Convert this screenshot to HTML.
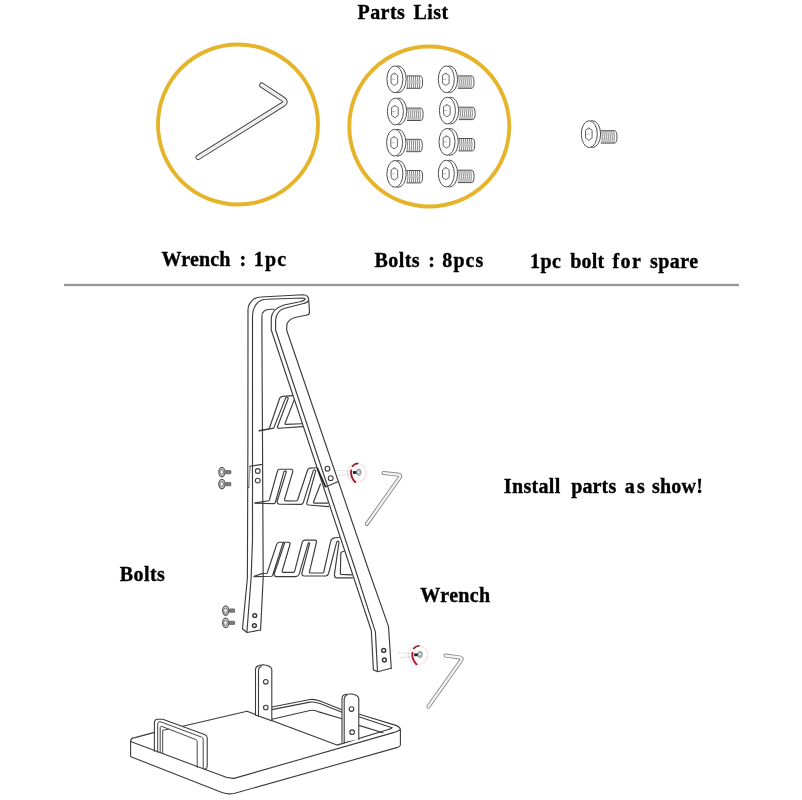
<!DOCTYPE html>
<html><head><meta charset="utf-8">
<style>
html,body{margin:0;padding:0;background:#fff;width:802px;height:800px;overflow:hidden;}
svg{position:absolute;left:0;top:0;display:block;}
.t{font-family:"Liberation Serif",serif;font-weight:bold;font-size:20px;fill:#000;stroke:#000;stroke-width:0.35px;}
</style></head><body>
<svg width="802" height="800" viewBox="0 0 802 800">
<defs>
<g id="bolt" fill="none" stroke="#484848" stroke-width="0.95">
  <path d="M19.5,10.2 L33.5,10.2 Q35.8,10.5 35.8,16.4 Q35.8,22.3 33.5,22.6 L19.5,22.6" fill="#fff"/>
  <path d="M20.6,10.6 Q21.6,16.4 20.6,22.4 M22.6,10.4 Q23.7,16.4 22.6,22.4 M24.6,10.4 Q25.7,16.4 24.6,22.4 M26.6,10.4 Q27.7,16.4 26.6,22.4 M28.6,10.4 Q29.7,16.4 28.6,22.4 M30.6,10.4 Q31.7,16.4 30.6,22.4 M32.6,10.5 Q33.6,16.4 32.6,22.4" stroke="#5a5a5a" stroke-width="0.75"/>
  <ellipse cx="11.3" cy="13.6" rx="8.1" ry="13.4" fill="#fff"/>
  <ellipse cx="8.1" cy="13.6" rx="8.0" ry="13.4" fill="#fff"/>
  <path d="M7.6,7.4 L10.9,9.7 L10.9,17.5 L7.6,19.8 L4.3,17.5 L4.3,9.7 Z" stroke="#555" stroke-width="0.9"/>
  <path d="M4.6,13.6 L8,13.6 M7.6,7.4 L7.6,9.6" stroke="#888" stroke-width="0.6"/>
</g>
</defs>
<g style="filter:grayscale(1)"><text class="t" x="357.5" y="19.0" textLength="47.3" lengthAdjust="spacing">Parts</text>
<text class="t" x="413.6" y="19.0" textLength="34.6" lengthAdjust="spacing">List</text>
<text class="t" x="161.6" y="265.6" textLength="68.8" lengthAdjust="spacing">Wrench</text>
<text class="t" x="239.4" y="265.6" textLength="4.1" lengthAdjust="spacing">:</text>
<text class="t" x="253.8" y="265.6" textLength="32.4" lengthAdjust="spacing">1pc</text>
<text class="t" x="374.6" y="266.6" textLength="44.9" lengthAdjust="spacing">Bolts</text>
<text class="t" x="428.3" y="266.6" textLength="4.3" lengthAdjust="spacing">:</text>
<text class="t" x="442.3" y="266.6" textLength="41.1" lengthAdjust="spacing">8pcs</text>
<text class="t" x="530" y="268" textLength="30.8" lengthAdjust="spacing">1pc</text>
<text class="t" x="570.2" y="268" textLength="33.9" lengthAdjust="spacing">bolt</text>
<text class="t" x="612.4" y="268" textLength="28.5" lengthAdjust="spacing">for</text>
<text class="t" x="649.9" y="268" textLength="48.3" lengthAdjust="spacing">spare</text>
<text class="t" x="503.8" y="492.9" textLength="56.5" lengthAdjust="spacing">Install</text>
<text class="t" x="571.2" y="492.9" textLength="45" lengthAdjust="spacing">parts</text>
<text class="t" x="624.8" y="492.9" textLength="20.1" lengthAdjust="spacing">as</text>
<text class="t" x="652" y="492.9" textLength="50.8" lengthAdjust="spacing">show!</text>
<text class="t" x="119.7" y="580.6" textLength="45.1" lengthAdjust="spacing">Bolts</text>
<text class="t" x="420.3" y="601.9" textLength="69.9" lengthAdjust="spacing">Wrench</text></g>
<circle cx="238" cy="124.5" r="80" fill="none" stroke="#e5b42a" stroke-width="3.9"/>
<circle cx="429.3" cy="126.5" r="80" fill="none" stroke="#e5b42a" stroke-width="3.9"/>
<path d="M261.8,85.2 L283.0,99.1 Q287.2,101.8 283.0,104.4 L198.2,157.3" fill="none" stroke="#4a4a4a" stroke-width="5.4" stroke-linejoin="round" stroke-linecap="round"/><path d="M261.8,85.2 L283.0,99.1 Q287.2,101.8 283.0,104.4 L198.2,157.3" fill="none" stroke="#fff" stroke-width="3.3" stroke-linejoin="round" stroke-linecap="round"/><path d="M261.8,85.2 L283.0,99.1 Q287.2,101.8 283.0,104.4 L198.2,157.3" fill="none" stroke="#bbbbbb" stroke-width="0.5" stroke-linejoin="round"/>
<path d="M383.5,473.0 L398.0,474.6 Q401.5,475.0 399.5,477.9 L366.8,524.0" fill="none" stroke="#8a8a8a" stroke-width="4.0" stroke-linejoin="round" stroke-linecap="round"/><path d="M383.5,473.0 L398.0,474.6 Q401.5,475.0 399.5,477.9 L366.8,524.0" fill="none" stroke="#fff" stroke-width="2.1" stroke-linejoin="round" stroke-linecap="round"/><path d="M383.5,473.0 L398.0,474.6 Q401.5,475.0 399.5,477.9 L366.8,524.0" fill="none" stroke="#dddddd" stroke-width="0.5" stroke-linejoin="round"/>
<use href="#bolt" x="386.8" y="65.7"/><use href="#bolt" x="387.3" y="97.9"/><use href="#bolt" x="386.5" y="129.1"/><use href="#bolt" x="386.8" y="160.3"/><use href="#bolt" x="438.2" y="65.7"/><use href="#bolt" x="439.3" y="97.0"/><use href="#bolt" x="438.9" y="128.3"/><use href="#bolt" x="438.2" y="160.0"/><use href="#bolt" x="581.2" y="120.5"/>
<rect x="64" y="283.8" width="675" height="2.3" fill="#979797"/>

<g fill="none" stroke="#3c3c3c" stroke-width="1.15" stroke-linejoin="round" stroke-linecap="round">
 <!-- hooks row 1 -->
 <path d="M259.1,430.6 L269.2,428.7 L279.7,398.2 Q280.3,396.6 282.7,396.4 L292.5,395.6"/>
 <path d="M259.1,431 L273.7,428.1 L285.7,397.9 Q286.8,396.4 288.3,398.2 L277.4,427 Q277.3,428.3 279,428.3 L302.5,426.6"/>
 <path d="M302,423.7 L286,424.4 Q284.6,424.5 285.1,423.2 L294.3,399.6"/>
 <!-- hooks row 2 -->
 <path d="M255,502.9 L268.7,500.8 Q269.2,500.6 269.4,500 L277.5,471 Q278,469.4 279.6,469.3 L291.2,469.2 Q293.2,469.4 292.7,471.8 L284.5,499.5 Q284.5,500.8 285.8,500.8 L296.3,501 Q297.2,500.9 297.6,500 L307.6,470 Q308.2,468.2 309.6,468.1 L317.3,467.8"/>
 <path d="M255,503.3 L273.8,503.6 Q275,503.3 275.3,502.5 L283.9,471.8 Q284.8,470.2 286.4,471.6 L277.1,501.5 Q277.5,504.2 279.5,504.3 L301.4,504.4 Q302.7,504.2 303.2,502.8 L313.25,470.6 Q314.5,469.3 315.75,470.9 L306.7,503.5 Q306.8,505 308.5,505 L328.5,506.6"/>
 <path d="M327.8,503.1 L314.2,503.1 Q313.3,502.8 313.6,501.8 L320.5,484"/>
 <!-- hooks row 3 -->
 <path d="M254.1,576.2 L262,573.6 L267.1,573.2 L276.6,544.6 Q277.3,542.3 279.5,542.2 L288.4,542.2 Q290.4,542.5 290.1,544 L282.2,571 Q282,572.3 283.5,572.4 L293.5,572.4 Q294.3,572.3 294.6,571.3 L302.3,542 Q302.9,540.2 304.5,540.1 L315,540.1 Q316.8,540.4 316.5,542 L309.3,572.6 Q309.5,573 310,573 L323.2,573 Q323.8,572.8 323.9,571.5 L330.7,541.2 Q331.5,538 335,537.7 L339.5,537.5"/>
 <path d="M254.1,576.6 L271.6,576.3 Q272.5,576 272.7,575.2 L282.8,543.4 Q283.6,542 284.5,543.2 L274.1,574.4 Q274.5,576.6 276.5,576.6 L295.7,576.6 Q298.5,576.3 299.1,574.4 L308.2,543.1 Q309,542.2 309.7,543.3 L301.8,573.5 Q302,576 304,576 L326,576 Q328,575.5 328.6,573.5 L336.6,542.3 Q337.8,540.2 339,542 L334.4,574.9 Q334.6,577.9 336.5,577.9 L352.4,577.9"/>
 <path d="M351.6,574.9 L341,574.4 Q340.3,574.1 340.4,573 L340.8,553 Q341.2,551.4 344,551.2"/>
</g>
<!-- front leg (opaque) -->
<path d="M270.8,330 L271.25,330 L371.3,630.5 L373.4,669.7 L377.5,671.7 L391.25,668.3 L388.5,626.4 L286.6,330 Z" fill="#fff"/>
<g fill="none" stroke="#3c3c3c" stroke-width="1.15" stroke-linejoin="round" stroke-linecap="round">
 <!-- back post -->
 <path d="M242.5,628.75 L247.4,578 L247.9,440 L248,310 A13,13 0 0 1 261,297 L303,294.75 Q308.5,294.8 308.75,300 Q308,302.6 302.5,303.8 L284,308.5 Q276.5,311 275.6,320 L275.6,330 L355.5,570 L375.4,631.9 L377.5,671.5"/>
 <path d="M246.9,632 L251.1,578 L252.5,540 L252.5,317.5 C252.5,306 258,299.25 267,299.25 L303,298 Q306,298.3 304.8,299.8 Q303,301 300,301.8 L284,305 Q272,309 271.3,318 L271.25,330 L371.3,630.5 L373.4,669.7"/>
 <path d="M260.6,630 L263.2,577.5 L263,540 L262.5,440 L261.9,330 L261.9,316.5 C261.9,312 265,309.25 270.5,309.25 L274,309.25"/>
 <path d="M242.5,628.75 L246.9,632.5 L260.6,630"/>
 <path d="M308.75,301 L309.5,312 Q309.5,314.6 307,315 L295,317.5 Q288.5,319.5 287,324 L286.6,330 L368.6,570 L388.5,626.4 L391.25,668.3"/>
 <path d="M373.4,669.7 L377.5,671.7 L391.25,668.3"/>
 <!-- back bracket -->
 <path d="M250,466.2 L262.5,464.4 M250,466.2 L248.6,487.5"/>
 <circle cx="257.75" cy="471" r="2.4" stroke-width="1.1"/>
 <circle cx="257.75" cy="480.6" r="2.4" stroke-width="1.1"/>
 <!-- front bracket -->
 <path d="M325.5,487 L337.8,481.8"/>
 <circle cx="327.5" cy="468.7" r="2.4" stroke-width="1.1"/>
 <circle cx="330.7" cy="478.2" r="2.4" stroke-width="1.1"/>
 <!-- holes lower -->
 <circle cx="254.75" cy="615.6" r="1.95" stroke-width="1.5"/>
 <circle cx="254.4" cy="625.6" r="1.95" stroke-width="1.5"/>
 <circle cx="383.7" cy="650.4" r="1.95" stroke-width="1.5"/>
 <circle cx="384.4" cy="660" r="1.95" stroke-width="1.5"/>
</g>
<path d="M317.2,468 L325.6,487" stroke="#222" stroke-width="1.8" fill="none"/>
<rect x="248.3" y="467" width="1.6" height="20" fill="#bbb"/>

<g>
 <rect x="225.1" y="470.0" width="6.2" height="4.2" rx="1.3" fill="#6c6c6c"/>
 <path d="M226.9,470.1 v4 M228.5,470.1 v4 M230.0,470.1 v4" stroke="#9a9a9a" stroke-width="0.5"/>
 <ellipse cx="221.9" cy="472.1" rx="3.1" ry="4.7" fill="#d6d6d6" stroke="#5a5a5a" stroke-width="1.2"/>
 <ellipse cx="221.7" cy="472.1" rx="1.8" ry="2.6" fill="#eee" stroke="#6a6a6a" stroke-width="0.9"/>
 <circle cx="221.6" cy="472.1" r="0.7" fill="#fff"/>
</g>
<g>
 <rect x="225.1" y="482.0" width="6.2" height="4.2" rx="1.3" fill="#6c6c6c"/>
 <path d="M226.9,482.1 v4 M228.5,482.1 v4 M230.0,482.1 v4" stroke="#9a9a9a" stroke-width="0.5"/>
 <ellipse cx="221.9" cy="484.1" rx="3.1" ry="4.7" fill="#d6d6d6" stroke="#5a5a5a" stroke-width="1.2"/>
 <ellipse cx="221.7" cy="484.1" rx="1.8" ry="2.6" fill="#eee" stroke="#6a6a6a" stroke-width="0.9"/>
 <circle cx="221.6" cy="484.1" r="0.7" fill="#fff"/>
</g>
<g>
 <rect x="228.9" y="608.5" width="6.2" height="4.2" rx="1.3" fill="#6c6c6c"/>
 <path d="M230.7,608.6 v4 M232.3,608.6 v4 M233.8,608.6 v4" stroke="#9a9a9a" stroke-width="0.5"/>
 <ellipse cx="225.7" cy="610.6" rx="3.1" ry="4.7" fill="#d6d6d6" stroke="#5a5a5a" stroke-width="1.2"/>
 <ellipse cx="225.5" cy="610.6" rx="1.8" ry="2.6" fill="#eee" stroke="#6a6a6a" stroke-width="0.9"/>
 <circle cx="225.4" cy="610.6" r="0.7" fill="#fff"/>
</g>
<g>
 <rect x="228.9" y="620.8" width="6.2" height="4.2" rx="1.3" fill="#6c6c6c"/>
 <path d="M230.7,620.9 v4 M232.3,620.9 v4 M233.8,620.9 v4" stroke="#9a9a9a" stroke-width="0.5"/>
 <ellipse cx="225.7" cy="622.9" rx="3.1" ry="4.7" fill="#d6d6d6" stroke="#5a5a5a" stroke-width="1.2"/>
 <ellipse cx="225.5" cy="622.9" rx="1.8" ry="2.6" fill="#eee" stroke="#6a6a6a" stroke-width="0.9"/>
 <circle cx="225.4" cy="622.9" r="0.7" fill="#fff"/>
</g>
<g transform="translate(0,0)">
 <circle cx="356.8" cy="472.8" r="9.5" fill="none" stroke="#f6dde2" stroke-width="1.2"/>
 <path d="M337,470.2 L350,471.3 M338.4,475.6 L350,474.3" stroke="#b8c4c8" stroke-width="0.9" stroke-dasharray="1.5,1.5" fill="none"/>
 <path d="M352.5,466.3 Q354.5,463.8 357.7,463.4" stroke="#8e1a26" stroke-width="1.6" fill="none" stroke-linecap="round"/>
 <path d="M351.2,470.5 Q350,476.5 355.2,482" stroke="#a81a2c" stroke-width="1.9" fill="none" stroke-linecap="round"/>
 <rect x="352.9" y="471.1" width="4" height="2.8" fill="#222"/>
 <ellipse cx="358.8" cy="472.2" rx="2.3" ry="3.3" fill="#a9b4b4" stroke="#7a8585" stroke-width="0.6"/>
 <circle cx="358.6" cy="472.2" r="0.9" fill="#fff"/>
</g>
<g transform="translate(61.3,182.3)">
 <circle cx="356.8" cy="472.8" r="9.5" fill="none" stroke="#f6dde2" stroke-width="1.2"/>
 <path d="M337,470.2 L350,471.3 M338.4,475.6 L350,474.3" stroke="#b8c4c8" stroke-width="0.9" stroke-dasharray="1.5,1.5" fill="none"/>
 <path d="M352.5,466.3 Q354.5,463.8 357.7,463.4" stroke="#8e1a26" stroke-width="1.6" fill="none" stroke-linecap="round"/>
 <path d="M351.2,470.5 Q350,476.5 355.2,482" stroke="#a81a2c" stroke-width="1.9" fill="none" stroke-linecap="round"/>
 <rect x="352.9" y="471.1" width="4" height="2.8" fill="#222"/>
 <ellipse cx="358.8" cy="472.2" rx="2.3" ry="3.3" fill="#a9b4b4" stroke="#7a8585" stroke-width="0.6"/>
 <circle cx="358.6" cy="472.2" r="0.9" fill="#fff"/>
</g>
<path d="M445.5,655.6 L459.5,657.4 Q463.0,657.8 461.0,660.7 L428.4,706.6" fill="none" stroke="#8a8a8a" stroke-width="4.0" stroke-linejoin="round" stroke-linecap="round"/><path d="M445.5,655.6 L459.5,657.4 Q463.0,657.8 461.0,660.7 L428.4,706.6" fill="none" stroke="#fff" stroke-width="2.1" stroke-linejoin="round" stroke-linecap="round"/><path d="M445.5,655.6 L459.5,657.4 Q463.0,657.8 461.0,660.7 L428.4,706.6" fill="none" stroke="#dddddd" stroke-width="0.5" stroke-linejoin="round"/>

<g fill="none" stroke="#3c3c3c" stroke-width="1.1" stroke-linejoin="round" stroke-linecap="round">
 <!-- outer tray -->
 <path d="M130.6,741 L130.6,756.3"/>

 <path d="M131,756.8 L222,792.5 Q228,794.6 234,793.5 L397.6,747.4 Q400.4,746.5 400.4,745.1 L400.4,729.4 Q399.5,726.2 394.2,724.9 L359.4,714.2"/>
 <!-- plate -->
 <path d="M130.6,741 Q131,737.8 135,737.6 L154.4,732.4"/>
 <path d="M181.5,726.5 L247,711.3 L337,745.1 L387.5,729.8 Q391.5,728.6 392,727.7"/>
 <!-- rim back -->
 <path d="M271.8,707 L310,699.5 Q314,698.8 320,701 L342,709.8"/>
 <path d="M271.8,709.6 L310,702.1 Q314,701.5 320,703.6 L342,712.3"/>
 <path d="M358.8,716.8 L392,727.7"/>
 <path d="M271.8,719.3 L310,710.5 Q313.5,709.8 318,711.6 L342,718.8"/>
 <path d="M358.8,725.4 L383,732.7"/>
</g>
<!-- handle -->
<path d="M154.4,751.5 L154.4,722.8 Q154.4,719.4 157.8,719.3 L162.8,719.2 L205.2,734.8 Q207.2,735.6 207.2,738 L207.2,770 L154.4,751.5 Z" fill="#fff"/>
<g fill="none" stroke="#3c3c3c" stroke-width="1.1" stroke-linejoin="round" stroke-linecap="round">
 <path d="M154.4,751.2 L154.4,722.8 Q154.4,719.4 157.8,719.3 L162.8,719.2 L205.2,734.8 Q207.2,735.6 207.2,738 L207.2,766.5 Q207,768.6 204.5,769.5"/>
 <path stroke-width="0.95" d="M157.7,752.3 L157.7,723.8 Q157.8,721.6 160,721.6 L201.8,737.2 Q203.2,737.8 203.2,739.6 L203.2,768.6"/>
 <path stroke-width="0.95" d="M160.2,752.8 L160.2,727.6 Q160.3,726 161.8,726.4 L196,739.6 Q197.2,740.2 197.2,741.8 L197.2,767.4"/>
 <path stroke-width="0.95" d="M162.7,753.6 L162.7,730.3 L168.4,729.2"/>
 <path d="M130.6,741.6 L220.8,775.3 Q227.5,778.6 234,778.4 L394.2,732.4 Q399.5,730.7 400.4,729.4"/>
</g>
<!-- uprights -->
<path d="M255.5,715 L255.5,669 Q255.8,666 258,665.8 L259,667.5 Q262,664.8 265,665 Q270,665.5 271.8,669 L271.8,720.5 Z" fill="#fff"/>
<g fill="none" stroke="#3c3c3c" stroke-width="1.1" stroke-linejoin="round" stroke-linecap="round">
 <path d="M255.5,715 L255.5,669 Q256,666.2 259,665.6 Q262,664.6 265,665 Q270,665.5 271.8,669 L271.8,720.5"/>
 <path d="M258.5,716 L258.5,670 Q258.7,667.3 261,666.6"/>
 <path d="M255.5,715 L271.8,720.8"/>
 <circle cx="265.8" cy="681.8" r="2.3" stroke-width="1.1"/>
 <circle cx="265.8" cy="707.5" r="2.3" stroke-width="1.1"/>
</g>
<path d="M342,742 L342,698 Q342.5,695 345,694.5 Q348,693.8 351,694 Q358.5,694.6 358.8,699 L358.8,739.5 Z" fill="#fff"/>
<g fill="none" stroke="#3c3c3c" stroke-width="1.1" stroke-linejoin="round" stroke-linecap="round">
 <path d="M342,742 L342,698 Q342.5,695 345,694.5 Q348,693.8 351,694 Q358.5,694.6 358.8,699 L358.8,739.5"/>
 <path d="M344.2,743 L344.2,698.5 Q344.5,696 347,695"/>
 <circle cx="351.5" cy="709.1" r="2.3" stroke-width="1.1"/>
 <circle cx="352.1" cy="732.2" r="2.3" stroke-width="1.1"/>
</g>

</svg>
</body></html>
